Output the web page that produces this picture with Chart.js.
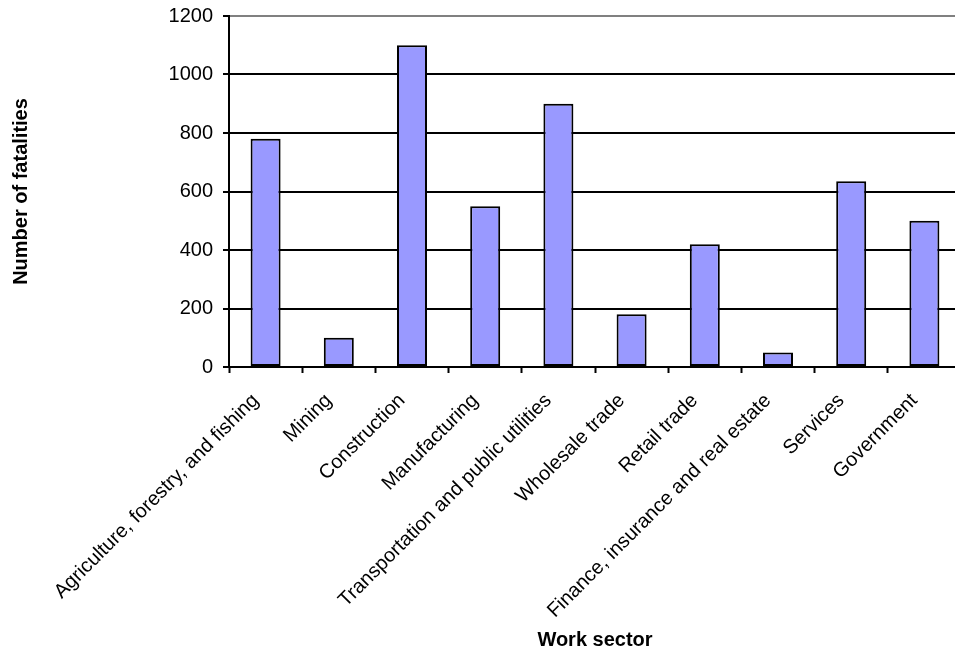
<!DOCTYPE html>
<html>
<head>
<meta charset="utf-8">
<script src="https://cdn.jsdelivr.net/npm/chart.js@4/dist/chart.umd.min.js"></script>
<style>
  html, body { margin: 0; padding: 0; background: #fff; overflow: hidden; }
  #wrap { position: relative; width: 961px; height: 652px; }
</style>
</head>
<body>
<div id="wrap"><canvas id="chart"></canvas></div>
<script>
// Fatalities by work sector
const sectors = [
  'Agriculture, forestry, and fishing',
  'Mining',
  'Construction',
  'Manufacturing',
  'Transportation and public utilities',
  'Wholesale trade',
  'Retail trade',
  'Finance, insurance and real estate',
  'Services',
  'Government'
];
const fatalities = [780, 100, 1100, 550, 900, 180, 420, 50, 635, 500];
const yTicks = [0, 200, 400, 600, 800, 1000, 1200];

const FONT = "'Liberation Sans', Arial, Helvetica, sans-serif";

new Chart(document.getElementById('chart'), {
  type: 'bar',
  data: {
    labels: sectors,
    datasets: [{
      data: fatalities,
      backgroundColor: '#9999FF',
      borderColor: '#000000',
      borderWidth: 2,
      borderSkipped: false,
      barPercentage: 0.41,
      categoryPercentage: 1.0
    }]
  },
  options: {
    responsive: true,
    maintainAspectRatio: false,
    animation: false,
    devicePixelRatio: 1,
    layout: { padding: { top: 16, right: 0, bottom: 0, left: 0 } },
    plugins: {
      legend: { display: false },
      tooltip: { enabled: false }
    },
    scales: {
      x: {
        grid: {
          display: true,
          drawOnChartArea: false,
          drawTicks: true,
          tickLength: 6,
          tickColor: '#000000',
          tickWidth: 2,
          offset: true
        },
        border: { display: true, color: '#000000', width: 2 },
        ticks: {
          autoSkip: false,
          minRotation: 45,
          maxRotation: 45,
          padding: 16,
          labelOffset: -10,
          color: '#000000',
          font: { family: FONT, size: 20 }
        },
        title: {
          display: true,
          text: 'Work sector',
          color: '#000000',
          font: { family: FONT, size: 20, weight: 'bold' },
          padding: { top: 0, bottom: 0 }
        },
        afterFit(scale) { scale.height = 285; }
      },
      y: {
        min: 0,
        max: 1200,
        afterBuildTicks(scale) {
          scale.ticks = yTicks.map(v => ({ value: v }));
        },
        grid: {
          color: ctx => (ctx.tick && ctx.tick.value === 1200) ? '#808080' : '#000000',
          lineWidth: 2,
          drawTicks: true,
          tickLength: 6,
          tickColor: '#000000',
          tickWidth: 2
        },
        border: { display: true, color: '#000000', width: 2 },
        ticks: {
          padding: 10,
          color: '#000000',
          font: { family: FONT, size: 20 },
          callback: v => String(v)
        },
        title: {
          display: true,
          text: 'Number of fatalities',
          color: '#000000',
          font: { family: FONT, size: 20, weight: 'bold' },
          padding: { top: 9, bottom: 0 }
        },
        afterFit(scale) {
          scale.width = 229;
          scale.paddingTop = 0;
        }
      }
    }
  }
});
</script>
</body>
</html>
